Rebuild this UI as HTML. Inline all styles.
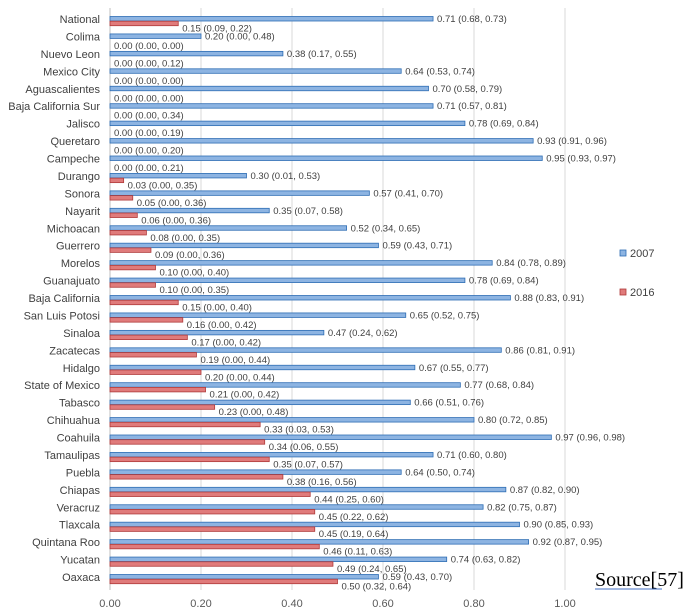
<!DOCTYPE html>
<html><head><meta charset="utf-8"><style>
body{margin:0;background:#fff;}
svg{display:block;font-family:"Liberation Sans",sans-serif;}
</style></head><body>
<svg id="c" width="697" height="616"></svg>
<script>
const categories=["National","Colima","Nuevo Leon","Mexico City","Aguascalientes","Baja California Sur","Jalisco","Queretaro","Campeche","Durango","Sonora","Nayarit","Michoacan","Guerrero","Morelos","Guanajuato","Baja California","San Luis Potosi","Sinaloa","Zacatecas","Hidalgo","State of Mexico","Tabasco","Chihuahua","Coahuila","Tamaulipas","Puebla","Chiapas","Veracruz","Tlaxcala","Quintana Roo","Yucatan","Oaxaca"];
const v2007=[0.71,0.20,0.38,0.64,0.70,0.71,0.78,0.93,0.95,0.30,0.57,0.35,0.52,0.59,0.84,0.78,0.88,0.65,0.47,0.86,0.67,0.77,0.66,0.80,0.97,0.71,0.64,0.87,0.82,0.90,0.92,0.74,0.59];
const ci2007=["(0.68, 0.73)","(0.00, 0.48)","(0.17, 0.55)","(0.53, 0.74)","(0.58, 0.79)","(0.57, 0.81)","(0.69, 0.84)","(0.91, 0.96)","(0.93, 0.97)","(0.01, 0.53)","(0.41, 0.70)","(0.07, 0.58)","(0.34, 0.65)","(0.43, 0.71)","(0.78, 0.89)","(0.69, 0.84)","(0.83, 0.91)","(0.52, 0.75)","(0.24, 0.62)","(0.81, 0.91)","(0.55, 0.77)","(0.68, 0.84)","(0.51, 0.76)","(0.72, 0.85)","(0.96, 0.98)","(0.60, 0.80)","(0.50, 0.74)","(0.82, 0.90)","(0.75, 0.87)","(0.85, 0.93)","(0.87, 0.95)","(0.63, 0.82)","(0.43, 0.70)"];
const v2016=[0.15,0.00,0.00,0.00,0.00,0.00,0.00,0.00,0.00,0.03,0.05,0.06,0.08,0.09,0.10,0.10,0.15,0.16,0.17,0.19,0.20,0.21,0.23,0.33,0.34,0.35,0.38,0.44,0.45,0.45,0.46,0.49,0.50];
const ci2016=["(0.09, 0.22)","(0.00, 0.00)","(0.00, 0.12)","(0.00, 0.00)","(0.00, 0.00)","(0.00, 0.34)","(0.00, 0.19)","(0.00, 0.20)","(0.00, 0.21)","(0.00, 0.35)","(0.00, 0.36)","(0.00, 0.36)","(0.00, 0.35)","(0.00, 0.36)","(0.00, 0.40)","(0.00, 0.35)","(0.00, 0.40)","(0.00, 0.42)","(0.00, 0.42)","(0.00, 0.44)","(0.00, 0.44)","(0.00, 0.42)","(0.00, 0.48)","(0.03, 0.53)","(0.06, 0.55)","(0.07, 0.57)","(0.16, 0.56)","(0.25, 0.60)","(0.22, 0.62)","(0.19, 0.64)","(0.11, 0.63)","(0.24, 0.65)","(0.32, 0.64)"];
const ticks=[0,0.2,0.4,0.6,0.8,1.0];
const NS="http://www.w3.org/2000/svg",svg=document.getElementById('c');
const X0=110,X1=565,y0=19,step=(577-19)/32;
const xs=v=>X0+v*(X1-X0);
const ys=i=>y0+i*step;
function el(t,a,txt){const e=document.createElementNS(NS,t);for(const k in a)e.setAttribute(k,a[k]);if(txt!=null)e.textContent=txt;svg.appendChild(e);return e;}
ticks.forEach(t=>{
 const g=el('line',{x1:xs(t),x2:xs(t),y1:8,y2:590,stroke:t===0?'#bfbfbf':'#d9d9d9','stroke-width':1});
 
 
 const l=el('text',{x:xs(t),y:607,'text-anchor':'middle','font-size':11,fill:'#595959'},t.toFixed(2));
 
 
});
categories.forEach((c,i)=>{
 const y=ys(i);
 const lb=el('text',{x:100,y:y+4,'text-anchor':'end','font-size':11,fill:'#404040'},c);
 
 
 const b=el('rect',{x:X0,y:y-2.5,width:Math.max(xs(v2007[i])-X0,0),height:4.5,fill:'#8db4e2',stroke:'#2e6db4','stroke-width':0.8});
 
 
 const bt=el('text',{x:xs(v2007[i])+4,y:y+3,'font-size':9.5,fill:'#404040'},v2007[i].toFixed(2)+' '+ci2007[i]);
 
 
 if(v2016[i]>0){
  const r=el('rect',{x:X0,y:y+2.2,width:xs(v2016[i])-X0,height:4.5,fill:'#e07b7b',stroke:'#b03a3a','stroke-width':0.8});
  
  
 }
 const rt=el('text',{x:xs(v2016[i])+4,y:y+12.5,'font-size':9.5,fill:'#404040'},v2016[i].toFixed(2)+' '+ci2016[i]);
 
 
});
const lg=[['2007','#8db4e2','#2e6db4',253],['2016','#e07b7b','#b03a3a',292]];
lg.forEach(l=>{
 const s=el('rect',{x:620,y:l[3]-3,width:6,height:6,fill:l[1],stroke:l[2],'stroke-width':0.8});
 
 
 const t=el('text',{x:630,y:l[3]+4,'font-size':11,fill:'#404040'},l[0]);
 
 
});
const src=el('text',{x:595,y:586,'font-size':20,fill:'#000','font-family':'Liberation Serif, serif'},'Source[57]');


const u=el('line',{x1:595,x2:662,y1:589,y2:589,stroke:'#4472c4','stroke-width':1});


</script>
</body></html>
